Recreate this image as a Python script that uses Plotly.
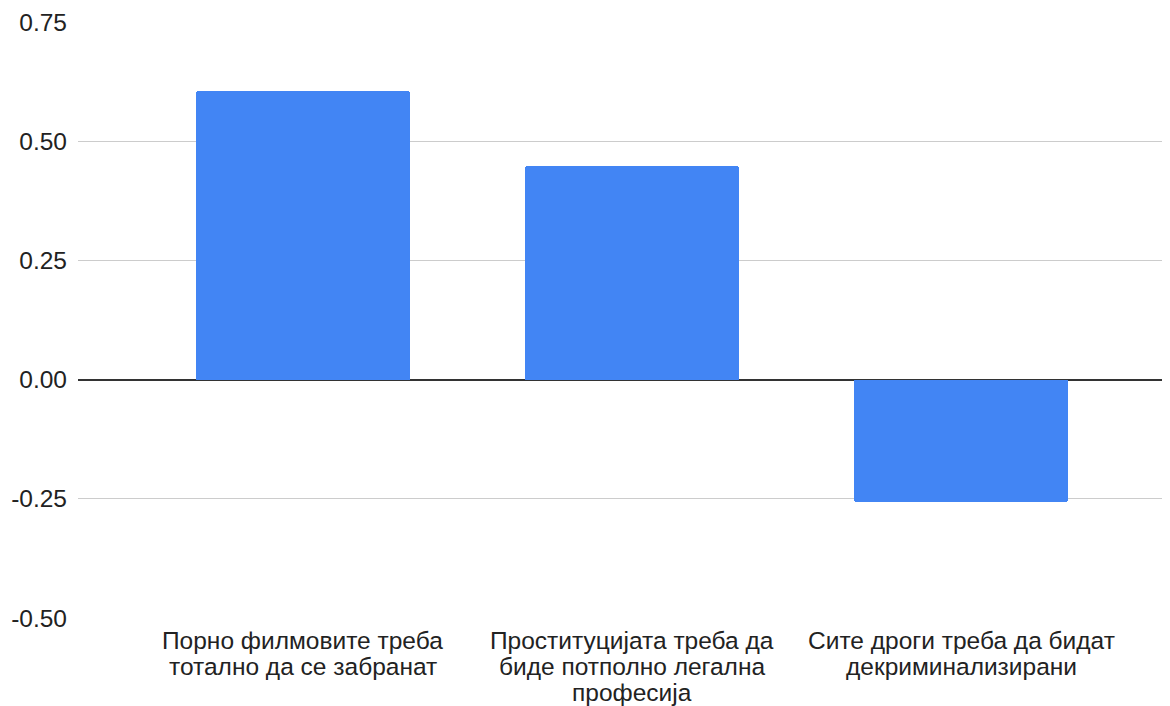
import plotly.graph_objects as go

categories = [
    "Порно филмовите треба<br>тотално да се забранат",
    "Проституцијата треба да<br>биде потполно легална<br>професија",
    "Сите дроги треба да бидат<br>декриминализирани",
]
values = [0.606, 0.449, -0.256]
y_ticks = [-0.5, -0.25, 0, 0.25, 0.5, 0.75]
y_tick_labels = ["-0.50", "-0.25", "0.00", "0.25", "0.50", "0.75"]

FONT_SIZE = 24.5
tick_font = dict(family="Liberation Sans, Arial, sans-serif", size=FONT_SIZE, color="#222222")

fig = go.Figure(
    go.Bar(
        x=[0, 1, 2],
        y=values,
        width=0.65,
        marker=dict(color="#4285F4", cornerradius=3, line=dict(width=0)),
    )
)

# category labels, one annotation per line to get tight line spacing
for i, label in enumerate(categories):
    for k, line in enumerate(label.split("<br>")):
        fig.add_annotation(
            x=i,
            xref="x",
            y=0,
            yref="paper",
            yanchor="top",
            xanchor="center",
            yshift=-7 - 26 * k,
            text=line,
            showarrow=False,
            font=tick_font,
        )

fig.update_layout(
    width=1162,
    height=698,
    margin=dict(l=70, r=0, t=14, b=88),
    paper_bgcolor="white",
    plot_bgcolor="white",
    font=tick_font,
    showlegend=False,
    bargap=0,
)
fig.update_xaxes(
    tickmode="array",
    tickvals=[0, 1, 2],
    showticklabels=False,
    range=[-0.682, 2.634],
    showgrid=False,
    zeroline=False,
    showline=False,
    ticks="",
    automargin=False,
)
fig.update_yaxes(
    range=[-0.5, 0.75],
    tickmode="array",
    tickvals=y_ticks,
    ticktext=y_tick_labels,
    tickfont=tick_font,
    showgrid=True,
    gridcolor="#cccccc",
    gridwidth=1,
    zeroline=True,
    zerolinecolor="#333333",
    zerolinewidth=1.5,
    showline=False,
    ticks="",
    ticklabelstandoff=10,
    automargin=False,
)

fig.write_html("out.html")
